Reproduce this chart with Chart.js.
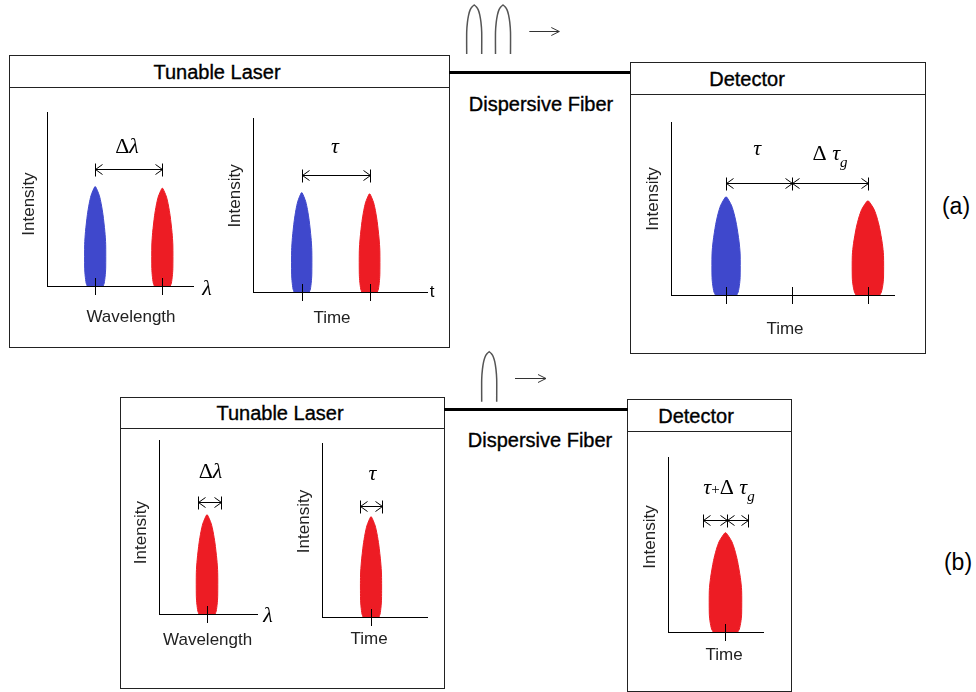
<!DOCTYPE html>
<html>
<head>
<meta charset="utf-8">
<script src="https://cdn.jsdelivr.net/npm/chart.js@4.4.1/dist/chart.umd.min.js"></script>
<style>
  body { margin: 0; width: 976px; height: 692px; position: relative; overflow: hidden; background: #fff;
         font-family: 'Liberation Sans', Arial, sans-serif; }
  .box { position: absolute; border: 1px solid #222; box-sizing: border-box; }
  .hline { position: absolute; left: 0; right: 0; height: 1px; background: #222; }
  .txt { position: absolute; transform: translate(-50%, -50%); line-height: 1; white-space: nowrap; font-size: 20px; color: #000;
         -webkit-text-stroke: 0.35px #000; }
  .fiber { position: absolute; height: 3px; background: #000; }
  canvas { position: absolute; }
</style>
</head>
<body>
<!-- (a) -->
<div class="box" style="left:9px;top:55px;width:441px;height:293px"><div class="hline" style="top:31px"></div></div>
<div class="box" style="left:630px;top:62px;width:296px;height:292px"><div class="hline" style="top:31px"></div></div>
<div class="fiber" style="left:449px;top:71px;width:181px"></div>
<div class="txt" style="left:217px;top:71.5px">Tunable Laser</div>
<div class="txt" style="left:747px;top:78.5px">Detector</div>
<div class="txt" style="left:541px;top:103.5px">Dispersive Fiber</div>
<div class="txt" style="left:956px;top:206px;font-size:23px;-webkit-text-stroke:0">(a)</div>
<!-- (b) -->
<div class="box" style="left:120px;top:397px;width:325px;height:292px"><div class="hline" style="top:30px"></div></div>
<div class="box" style="left:627px;top:399px;width:165px;height:293px"><div class="hline" style="top:31px"></div></div>
<div class="fiber" style="left:444px;top:408px;width:184px"></div>
<div class="txt" style="left:280px;top:412.5px">Tunable Laser</div>
<div class="txt" style="left:696px;top:415.5px">Detector</div>
<div class="txt" style="left:540px;top:440px">Dispersive Fiber</div>
<div class="txt" style="left:958px;top:562px;font-size:23px;-webkit-text-stroke:0">(b)</div>

<script>
const pulseProfile = [[0, 0.76], [0.03, 0.86], [0.1, 0.95], [0.18, 1], [0.42, 1], [0.55, 0.92],
                      [0.72, 0.74], [0.83, 0.57], [0.91, 0.4], [0.96, 0.22], [1, 0.04]];
// outline of the small pulse icons above the fiber
const archProfile = [[0, 1], [0.45, 1], [0.65, 0.9], [0.8, 0.74], [0.9, 0.54], [0.96, 0.3], [1, 0]];

// (a) tunable laser, spectrum
const specA_center = [3.3, 7.9];
const specA_peak = [5.7, 5.61];
const specA_halfWidth = [0.72, 0.72];
const specA_span = [3.3, 7.9];
const specA_label = ['Δλ'];
const specA_labelX = [5.48];
const specA_labelY = [7.63];

// (a) tunable laser, time
const timeA_center = [2.8, 6.7];
const timeA_peak = [5.7, 5.63];
const timeA_halfWidth = [0.58, 0.59];
const timeA_span = [2.8, 6.7];
const timeA_label = ['τ'];
const timeA_labelX = [4.71];
const timeA_labelY = [7.99];

// (a) detector
const detA_center = [2.47, 8.83];
const detA_peak = [5.66, 5.43];
const detA_halfWidth = [0.63, 0.7];
const detA_ticks = [2.47, 5.43, 8.83];
const detA_span = [2.47, 5.43, 8.83];
const detA_label = ['τ', 'Δ τ_g'];
const detA_labelX = [3.86, 7.13];
const detA_labelY = [8.09, 7.83];

// (b) tunable laser, spectrum
const specB_center = [4.9];
const specB_peak = [5.69];
const specB_halfWidth = [1.09];
const specB_span = [3.98, 6.33];
const specB_label = ['Δλ'];
const specB_labelX = [5.26];
const specB_labelY = [7.82];

// (b) tunable laser, time
const timeB_center = [4.67];
const timeB_peak = [5.75];
const timeB_halfWidth = [1.0];
const timeB_span = [3.62, 5.71];
const timeB_label = ['τ'];
const timeB_labelX = [4.81];
const timeB_labelY = [7.87];

// (b) detector
const detB_center = [6.05];
const detB_peak = [5.66];
const detB_halfWidth = [1.7];
const detB_span = [3.68, 6.18, 8.42];
const detB_label = ['τ+Δ τ_g'];
const detB_labelX = [6.42];
const detB_labelY = [7.89];

// pulses travelling on the fiber
const fiberA_center = [1.92, 4.8];
const fiberA_arrow = [7.43, 10.43];
const fiberB_center = [3.42];
const fiberB_arrow = [6.0, 9.1];

const BLUE = '#3f48cc', RED = '#ed1c24', INK = '#000', TEXT = '#222';
const SANS = "'Liberation Sans', Arial, sans-serif";
const SERIF = "'Liberation Serif', 'Times New Roman', serif";

function pulseOutline(center, peak, halfWidth, profile, base = 0) {
  const left = profile.map(([h, w]) => ({ x: center - w * halfWidth, y: base + h * (peak - base) }));
  const right = profile.slice().reverse().map(([h, w]) => ({ x: center + w * halfWidth, y: base + h * (peak - base) }));
  return left.concat(right);
}

function seg(ctx, x1, y1, x2, y2) {
  ctx.beginPath();
  ctx.moveTo(x1, y1);
  ctx.lineTo(x2, y2);
  ctx.stroke();
}

function chevron(ctx, x, y, dir, len, half) {
  ctx.beginPath();
  ctx.moveTo(x - dir * len, y - half);
  ctx.lineTo(x, y);
  ctx.lineTo(x - dir * len, y + half);
  ctx.stroke();
}

// Greek labels: Δ and + upright, letters italic, "_x" is a subscript
function drawMath(ctx, s, cx, baseY, size) {
  const runs = [];
  for (let i = 0; i < s.length; i++) {
    const ch = s[i];
    if (ch === '_') runs.push({ t: s[++i], f: `italic ${Math.round(size * 0.68)}px ${SERIF}`, dy: 7 });
    else if (ch === '+') runs.push({ t: ch, f: `${Math.round(size * 0.7)}px ${SERIF}`, dy: 0 });
    else if (ch === 'Δ' || ch === ' ') runs.push({ t: ch, f: `${size}px ${SERIF}`, dy: 0 });
    else runs.push({ t: ch, f: `italic ${size}px ${SERIF}`, dy: 0 });
  }
  let w = 0;
  runs.forEach(r => { ctx.font = r.f; r.w = ctx.measureText(r.t).width; w += r.w; });
  let xx = cx - w / 2;
  ctx.textAlign = 'left';
  ctx.textBaseline = 'alphabetic';
  ctx.fillStyle = INK;
  runs.forEach(r => { ctx.font = r.f; ctx.fillText(r.t, xx, baseY + r.dy); xx += r.w; });
}

function decorFor(p) {
  return {
    id: 'decor',
    afterDatasetsDraw(chart) {
      const { ctx, chartArea: a, scales: { x, y } } = chart;
      ctx.save();
      ctx.strokeStyle = INK;
      ctx.lineWidth = 1;

      // tick marks crossing the time / wavelength axis
      p.ticks.forEach(v => {
        const px = Math.round(x.getPixelForValue(v)) + 0.5;
        seg(ctx, px, a.bottom - 8, px, a.bottom + 9);
      });

      // dimension arrows |<-->|
      const ly = Math.round(y.getPixelForValue(p.level)) + 0.5;
      for (let i = 0; i < p.span.length - 1; i++) {
        const x1 = Math.round(x.getPixelForValue(p.span[i])) + 0.5;
        const x2 = Math.round(x.getPixelForValue(p.span[i + 1])) + 0.5;
        seg(ctx, x1, ly, x2, ly);
        chevron(ctx, x1, ly, -1, 7, 5);
        chevron(ctx, x2, ly, 1, 7, 5);
      }
      p.span.forEach(v => {
        const px = Math.round(x.getPixelForValue(v)) + 0.5;
        seg(ctx, px, ly - 6, px, ly + 7);
      });

      p.labels.forEach((s, i) =>
        drawMath(ctx, s, x.getPixelForValue(p.labelX[i]), y.getPixelForValue(p.labelY[i]), 22));

      // axis titles
      ctx.fillStyle = TEXT;
      ctx.font = `17px ${SANS}`;
      ctx.textAlign = 'center';
      ctx.textBaseline = 'alphabetic';
      ctx.fillText(p.xTitle, x.getPixelForValue(p.xTitleX), a.bottom + p.xTitleDy + 6);
      ctx.save();
      ctx.translate(a.left - 13, y.getPixelForValue(p.yTitleY));
      ctx.rotate(-Math.PI / 2);
      ctx.fillText('Intensity', 0, 0);
      ctx.restore();

      if (p.endLabel) {
        const e = p.endLabel;
        ctx.fillStyle = INK;
        ctx.font = e.font;
        ctx.fillText(e.text, a.right + e.dx, a.bottom + e.dy);
      }
      ctx.restore();
    }
  };
}

function makePlot(p) {
  const [l, t, r, b] = p.area;
  const m = { left: 45, top: 75, right: 45, bottom: 45 };
  const canvas = document.createElement('canvas');
  canvas.width = r - l + m.left + m.right;
  canvas.height = b - t + m.top + m.bottom;
  canvas.style.left = (l - m.left) + 'px';
  canvas.style.top = (t - m.top) + 'px';
  document.body.appendChild(canvas);

  const datasets = p.centers.map((c, i) => ({
    data: pulseOutline(c, p.peaks[i], p.halfWidths[i], pulseProfile),
    showLine: true,
    fill: 'shape',
    tension: 0.25,
    backgroundColor: p.colors[i],
    borderColor: p.colors[i],
    borderWidth: 1,
    pointRadius: 0,
    clip: false,
  }));

  new Chart(canvas, {
    type: 'scatter',
    data: { datasets },
    options: {
      responsive: false,
      animation: false,
      events: [],
      layout: { padding: m },
      plugins: { legend: { display: false }, tooltip: { enabled: false } },
      scales: {
        x: {
          type: 'linear', min: 0, max: 10, z: 1,
          grid: { display: false },
          ticks: { display: false },
          border: { color: INK, width: 1 },
          afterFit: s => { s.height = 0; },
        },
        y: {
          type: 'linear', min: 0, max: 10,
          grid: { display: false },
          ticks: { display: false },
          border: { color: INK, width: 1 },
          afterFit: s => { s.width = 0; },
        },
      },
    },
    plugins: [decorFor(p)],
  });
}

function makeIcon(ic) {
  const canvas = document.createElement('canvas');
  canvas.width = 120;
  canvas.height = 60;
  canvas.style.left = ic.left + 'px';
  canvas.style.top = ic.top + 'px';
  document.body.appendChild(canvas);

  new Chart(canvas, {
    type: 'scatter',
    data: {
      datasets: ic.centers.map(c => ({
        data: pulseOutline(c, ic.peak, 0.75, archProfile, ic.base),
        showLine: true,
        fill: false,
        tension: 0.25,
        borderColor: '#555',
        borderWidth: 1.5,
        pointRadius: 0,
        clip: false,
      })),
    },
    options: {
      responsive: false,
      animation: false,
      events: [],
      layout: { padding: 0 },
      plugins: { legend: { display: false }, tooltip: { enabled: false } },
      scales: {
        x: { type: 'linear', min: 0, max: 12, display: false },
        y: { type: 'linear', min: 0, max: 6, display: false },
      },
    },
    plugins: [{
      id: 'arrow',
      afterDatasetsDraw(chart) {
        const { ctx, scales: { x, y } } = chart;
        const ly = Math.round(y.getPixelForValue(ic.level)) + 0.5;
        const x1 = x.getPixelForValue(ic.arrow[0]);
        const x2 = x.getPixelForValue(ic.arrow[1]);
        ctx.save();
        ctx.strokeStyle = '#333';
        ctx.lineWidth = 1;
        seg(ctx, x1, ly, x2, ly);
        chevron(ctx, x2, ly, 1, 8, 4);
        ctx.restore();
      }
    }],
  });
}

const lambda = { text: 'λ', font: `italic 22px ${SERIF}` };

makePlot({ area: [47, 112, 193, 286], centers: specA_center, peaks: specA_peak, halfWidths: specA_halfWidth,
  colors: [BLUE, RED], ticks: specA_center, span: specA_span, level: 6.71,
  labels: specA_label, labelX: specA_labelX, labelY: specA_labelY,
  xTitle: 'Wavelength', xTitleX: 5.75, xTitleDy: 30, yTitleY: 4.71,
  endLabel: { ...lambda, dx: 14, dy: 9 } });

makePlot({ area: [253, 118, 427, 292], centers: timeA_center, peaks: timeA_peak, halfWidths: timeA_halfWidth,
  colors: [BLUE, RED], ticks: timeA_center, span: timeA_span, level: 6.72,
  labels: timeA_label, labelX: timeA_labelX, labelY: timeA_labelY,
  xTitle: 'Time', xTitleX: 4.54, xTitleDy: 24.5, yTitleY: 5.52,
  endLabel: { text: 't', font: `17px ${SANS}`, dx: 5, dy: 5 } });

makePlot({ area: [671, 122, 894, 295], centers: detA_center, peaks: detA_peak, halfWidths: detA_halfWidth,
  colors: [BLUE, RED], ticks: detA_ticks, span: detA_span, level: 6.49,
  labels: detA_label, labelX: detA_labelX, labelY: detA_labelY,
  xTitle: 'Time', xTitleX: 5.11, xTitleDy: 32.5, yTitleY: 5.55 });

makePlot({ area: [159, 440, 257, 614], centers: specB_center, peaks: specB_peak, halfWidths: specB_halfWidth,
  colors: [RED], ticks: specB_center, span: specB_span, level: 6.45,
  labels: specB_label, labelX: specB_labelX, labelY: specB_labelY,
  xTitle: 'Wavelength', xTitleX: 4.96, xTitleDy: 25, yTitleY: 4.68,
  endLabel: { ...lambda, dx: 11, dy: 8 } });

makePlot({ area: [322, 443, 427, 617], centers: timeB_center, peaks: timeB_peak, halfWidths: timeB_halfWidth,
  colors: [RED], ticks: timeB_center, span: timeB_span, level: 6.4,
  labels: timeB_label, labelX: timeB_labelX, labelY: timeB_labelY,
  xTitle: 'Time', xTitleX: 4.48, xTitleDy: 20.5, yTitleY: 5.49 });

makePlot({ area: [668, 457, 763, 632], centers: detB_center, peaks: detB_peak, halfWidths: detB_halfWidth,
  colors: [RED], ticks: detB_center, span: detB_span, level: 6.4,
  labels: detB_label, labelX: detB_labelX, labelY: detB_labelY,
  xTitle: 'Time', xTitleX: 5.9, xTitleDy: 22, yTitleY: 5.43 });

makeIcon({ left: 455, top: 0, centers: fiberA_center, base: 0.6, peak: 5.5, arrow: fiberA_arrow, level: 2.93 });
makeIcon({ left: 455, top: 345, centers: fiberB_center, base: 0.33, peak: 5.33, arrow: fiberB_arrow, level: 2.67 });
</script>
</body>
</html>
